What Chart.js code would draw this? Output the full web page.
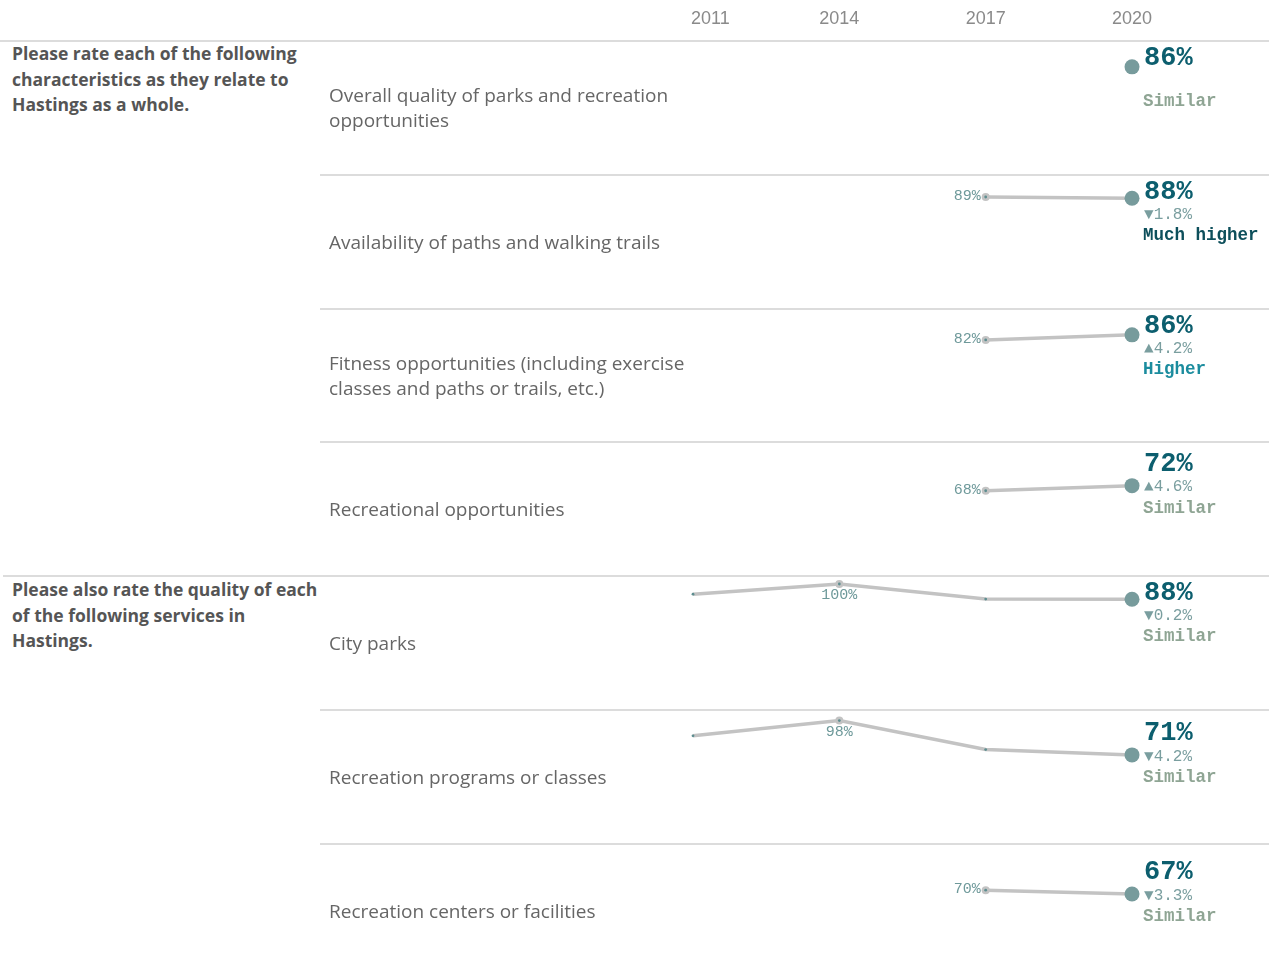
<!DOCTYPE html>
<html>
<head>
<meta charset="utf-8">
<title>Parks and recreation ratings</title>
<script src="https://cdn.jsdelivr.net/npm/chart.js@4/dist/chart.umd.min.js"></script>
<style>
  html, body { margin: 0; padding: 0; background: #fff; }
  #page { position: relative; width: 1269px; height: 972px; overflow: hidden; }
  .rule { position: absolute; height: 2px; background: #dcdcdc; }
  .group { position: absolute; left: 12px; font: bold 17.5px "Open Sans", sans-serif; color: #555; line-height: 25.5px; white-space: nowrap; }
  .item { position: absolute; left: 329px; width: 370px; font: 19px "Open Sans", sans-serif; color: #666; line-height: 25px;
          display: flex; align-items: center; white-space: nowrap; }
  canvas { position: absolute; }
</style>
</head>
<body>
<div id="page"></div>
<script>
// ---- data ----
const years = [2011, 2014, 2017, 2020];

const groupTitles = [
  ['Please rate each of the following', 'characteristics as they relate to', 'Hastings as a whole.'],
  ['Please also rate the quality of each', 'of the following services in', 'Hastings.']
];
const groupFirstRow = [0, 4];

const itemLabels = [
  ['Overall quality of parks and recreation', 'opportunities'],
  ['Availability of paths and walking trails'],
  ['Fitness opportunities (including exercise', 'classes and paths or trails, etc.)'],
  ['Recreational opportunities'],
  ['City parks'],
  ['Recreation programs or classes'],
  ['Recreation centers or facilities']
];

const values2011 = [null, null, null, null, 92, 86, null];
const values2014 = [null, null, null, null, 100, 98, null];
const values2017 = [null, 89, 82, 68, 88.2, 75.2, 70];
const values2020 = [86, 88, 86, 72, 88, 71, 67];

const changeText = ['', '\u25BC1.8%', '\u25B24.2%', '\u25B24.6%', '\u25BC0.2%', '\u25BC4.2%', '\u25BC3.3%'];
const verdicts = ['Similar', 'Much higher', 'Higher', 'Similar', 'Similar', 'Similar', 'Similar'];
const labelledYear = [null, 2017, 2017, 2017, 2014, 2014, 2017];

// ---- layout / style ----
const PAGE_W = 1269;
const HEADER_H = 41;
const ROW_H = 133.8;
const PANE_LEFT = 689;
const PANE_W = PAGE_W - PANE_LEFT;
const X_MIN = 2010.918, X_MAX = 2022.808;
const Y_MIN = 1, Y_MAX = 106.3;

const verdictColor = { 'Similar': '#8fa594', 'Higher': '#1b8c9e', 'Much higher': '#0d4f5b' };
const MONO = '"Liberation Mono", "Courier New", "DejaVu Sans Mono", monospace';

const page = document.getElementById('page');

function addRule(left, top) {
  const d = document.createElement('div');
  d.className = 'rule';
  d.style.left = left + 'px';
  d.style.width = (PAGE_W - left) + 'px';
  d.style.top = Math.round(top - 1) + 'px';
  page.appendChild(d);
}

function addCanvas(top, height) {
  const c = document.createElement('canvas');
  c.width = PANE_W; c.height = height;
  c.style.left = PANE_LEFT + 'px';
  c.style.top = top + 'px';
  c.style.width = PANE_W + 'px';
  c.style.height = height + 'px';
  page.appendChild(c);
  return c;
}

const baseOptions = () => ({
  responsive: false,
  animation: false,
  events: [],
  layout: { padding: 0, autoPadding: false },
  scales: {
    x: { type: 'linear', min: X_MIN, max: X_MAX, display: false },
    y: { type: 'linear', min: Y_MIN, max: Y_MAX, display: false }
  },
  plugins: { legend: { display: false }, tooltip: { enabled: false } }
});

// ---- header with year labels ----
const yearHeader = {
  id: 'yearHeader',
  afterDraw(chart) {
    const ctx = chart.ctx, xs = chart.scales.x;
    ctx.save();
    ctx.font = '18px "Liberation Sans", Arial, sans-serif';
    ctx.fillStyle = '#8a8a8a';
    ctx.textAlign = 'center';
    ctx.textBaseline = 'middle';
    years.forEach(yr => {
      const w = ctx.measureText(String(yr)).width;
      const px = Math.max(xs.getPixelForValue(yr), w / 2 + 2);
      ctx.fillText(String(yr), px, 19);
    });
    ctx.restore();
  }
};
new Chart(addCanvas(0, HEADER_H), {
  type: 'line',
  data: { datasets: [] },
  options: baseOptions(),
  plugins: [yearHeader]
});

// ---- group titles ----
groupTitles.forEach((lines, g) => {
  const d = document.createElement('div');
  d.className = 'group';
  d.style.top = Math.round(HEADER_H + groupFirstRow[g] * ROW_H + g) + 'px';
  d.innerHTML = lines.join('<br>');
  page.appendChild(d);
});

// ---- rows ----
addRule(0, HEADER_H);
itemLabels.forEach((lines, r) => {
  const top = Math.round(HEADER_H + r * ROW_H);
  if (r > 0) addRule(groupFirstRow.includes(r) ? 3 : 320, top);

  const lab = document.createElement('div');
  lab.className = 'item';
  lab.style.top = top + 'px';
  lab.style.height = Math.round(ROW_H) + 'px';
  lab.innerHTML = '<div>' + lines.join('<br>') + '</div>';
  page.appendChild(lab);

  const series = [values2011[r], values2014[r], values2017[r], values2020[r]];
  const pts = years.map((yr, i) => ({ x: yr, y: series[i] })).filter(p => p.y !== null);
  const past = pts.slice(0, -1);
  const last = pts.slice(-1);

  const rowText = {
    id: 'rowText',
    afterDatasetsDraw(chart) {
      const ctx = chart.ctx;
      const area = chart.chartArea;
      ctx.save();

      // value label on the highlighted earlier point
      const ly = labelledYear[r];
      if (ly !== null) {
        const idx = pts.findIndex(p => p.x === ly);
        const el = chart.getDatasetMeta(0).data[idx];
        const interior = idx > 0 && idx < pts.length - 1;
        ctx.font = '15px ' + MONO;
        ctx.fillStyle = '#6e999a';
        ctx.textBaseline = 'middle';
        const txt = Math.round(pts[idx].y) + '%';
        if (interior) {
          ctx.textAlign = 'center';
          ctx.fillText(txt, el.x, el.y + 11);
        } else {
          ctx.textAlign = 'right';
          ctx.fillText(txt, el.x - 5, el.y - 1);
        }
      }

      // current value block next to the latest point
      const dot = chart.getDatasetMeta(2).data[0];
      const mid = Math.max(dot.y, area.top + 38.5) + 1.5;
      const tx = dot.x + 12;
      ctx.textAlign = 'left';
      ctx.textBaseline = 'middle';
      ctx.font = 'bold 27px ' + MONO;
      ctx.fillStyle = '#0c5e6e';
      ctx.fillText(Math.round(last[0].y) + '%', tx, mid - 23);
      if (changeText[r]) {
        ctx.font = '16px ' + MONO;
        ctx.fillStyle = '#7a9e9f';
        ctx.fillText(changeText[r], tx, mid);
      }
      ctx.font = 'bold 17.5px ' + MONO;
      ctx.fillStyle = verdictColor[verdicts[r]];
      ctx.fillText(verdicts[r], tx - 1, mid + 21);
      ctx.restore();
    }
  };

  new Chart(addCanvas(top, Math.round(ROW_H)), {
    type: 'line',
    data: {
      datasets: [
        {
          order: 2,
          data: pts,
          borderColor: '#c3c3c3',
          borderWidth: 3.5,
          tension: 0,
          clip: false,
          pointRadius: pts.map(p => (p.x === labelledYear[r] ? 4 : 0)),
          pointBackgroundColor: '#c3c3c3',
          pointBorderWidth: 0
        },
        {
          order: 1,
          data: past,
          showLine: false,
          clip: false,
          pointRadius: 1.4,
          pointBackgroundColor: '#5e8e90',
          pointBorderWidth: 0
        },
        {
          order: 0,
          data: last,
          showLine: false,
          clip: false,
          pointRadius: 7.5,
          pointBackgroundColor: '#779b9c',
          pointBorderWidth: 0
        }
      ]
    },
    options: baseOptions(),
    plugins: [rowText]
  });
});
</script>
</body>
</html>
